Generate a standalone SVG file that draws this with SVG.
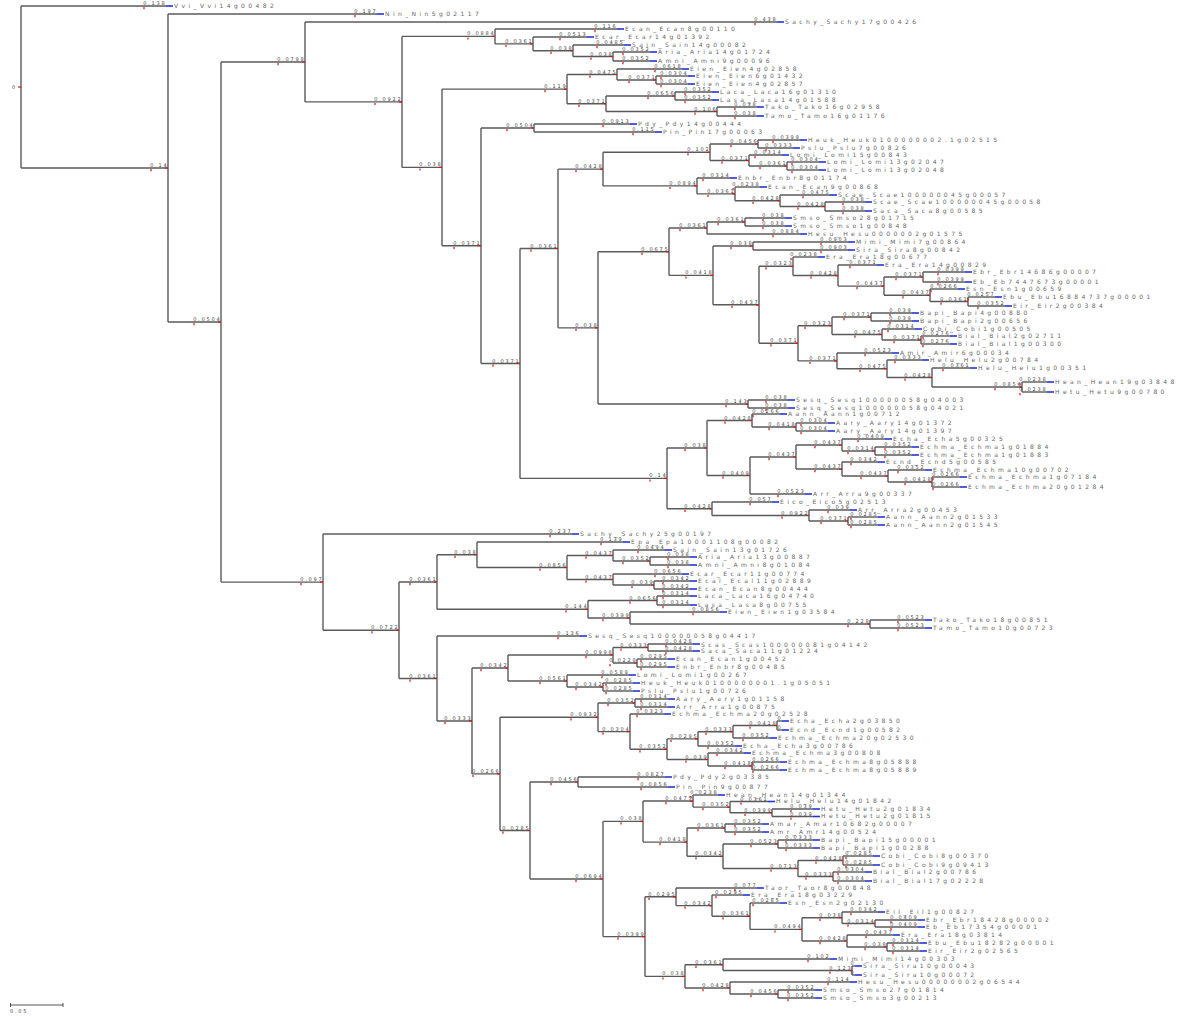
<svg xmlns="http://www.w3.org/2000/svg" width="1200" height="1016" viewBox="0 0 1200 1016">
<style>
.c path{fill:none;stroke:#5a5a5a;stroke-width:1.4}
.n{font-family:"DejaVu Sans",sans-serif;font-size:5px;letter-spacing:1.8px;fill:#444;text-anchor:end;transform:translateY(0.3px)}
.t{font-family:"DejaVu Sans",sans-serif;font-size:6px;letter-spacing:3.4px;fill:#666;transform:translateY(-0.3px)}
.r{fill:none;stroke:#d11;stroke-width:1.2}
.b{fill:none;stroke:#2233dd;stroke-width:1.6}
</style>
<rect width="1200" height="1016" fill="#fff"/>
<g class="c" id="connectors">
<path d="M21 6V168"/><path d="M21 6H166"/><path d="M21 168H168M168 14V322"/><path d="M168 14H377"/><path d="M168 322H221M221 62V582.1"/><path d="M221 62H305M305 22V101.9"/><path d="M305 22H777"/><path d="M305 101.9H402M402 36.4V167.4"/><path d="M402 36.4H495M495 29V43.9"/><path d="M495 29H617"/><path d="M495 43.9H533M533 37V50.75"/><path d="M533 37H587"/><path d="M533 50.75H573M573 45V56.5"/><path d="M573 45H624"/><path d="M573 56.5H613M613 52V61"/><path d="M613 52H650"/><path d="M613 61H650"/><path d="M402 167.4H442M442 89.1V245.7"/><path d="M442 89.1H567M567 74.5V103.75"/><path d="M567 74.5H617M617 69V80"/><path d="M617 69H682"/><path d="M617 80H656M656 76V84"/><path d="M656 76H688"/><path d="M656 84H688"/><path d="M567 103.75H606M606 96V111.5"/><path d="M606 96H675M675 92V100"/><path d="M675 92H712"/><path d="M675 100H712"/><path d="M606 111.5H717M717 107V116"/><path d="M717 107H757"/><path d="M717 116H757"/><path d="M442 245.7H481M481 128V363.45"/><path d="M481 128H534M534 124V132"/><path d="M534 124H630"/><path d="M534 132H655"/><path d="M481 363.45H520M520 248.5V478.4"/><path d="M520 248.5H558M558 169.1V327.85"/><path d="M558 169.1H603M603 152.25V185.9"/><path d="M603 152.25H710M710 144V160.5"/><path d="M710 144H758M758 140V148"/><path d="M758 140H800"/><path d="M758 148H793"/><path d="M710 160.5H749M749 155V166"/><path d="M749 155H782"/><path d="M749 166H787M787 162V170"/><path d="M787 162H819"/><path d="M787 170H819"/><path d="M603 185.9H697M697 178V193.9"/><path d="M697 178H730"/><path d="M697 193.9H735M735 187V200.75"/><path d="M735 187H760"/><path d="M735 200.75H780M780 195V206.5"/><path d="M780 195H830"/><path d="M780 206.5H825M825 202V211"/><path d="M825 202H865"/><path d="M825 211H865"/><path d="M558 327.85H598M598 251.7V404"/><path d="M598 251.7H669M669 228V275.4"/><path d="M669 228H707M707 222V234"/><path d="M707 222H745M745 218V226"/><path d="M745 218H785"/><path d="M745 226H785"/><path d="M707 234H800"/><path d="M669 275.4H713M713 246V304.8"/><path d="M713 246H753M753 242V250"/><path d="M753 242H848"/><path d="M753 250H848"/><path d="M713 304.8H759M759 266.3V343.3"/><path d="M759 266.3H793M793 257V275.55"/><path d="M793 257H818"/><path d="M793 275.55H838M838 265V286.1"/><path d="M838 265H877"/><path d="M838 286.1H884M884 277V295.25"/><path d="M884 277H923M923 272V282"/><path d="M923 272H965"/><path d="M923 282H965"/><path d="M884 295.25H930M930 289V301.5"/><path d="M930 289H958"/><path d="M930 301.5H968M968 297V306"/><path d="M968 297H995"/><path d="M968 306H1005"/><path d="M759 343.3H798M798 325.75V360.9"/><path d="M798 325.75H832M832 317V334.5"/><path d="M832 317H871M871 313V321"/><path d="M871 313H912"/><path d="M871 321H912"/><path d="M832 334.5H882M882 329V340"/><path d="M882 329H915"/><path d="M882 340H921M921 336V344"/><path d="M921 336H950"/><path d="M921 344H950"/><path d="M798 360.9H837M837 353V368.75"/><path d="M837 353H892"/><path d="M837 368.75H887M887 360V377.5"/><path d="M887 360H922"/><path d="M887 377.5H932M932 368V387"/><path d="M932 368H970"/><path d="M932 387H1022M1022 382V392"/><path d="M1022 382H1047"/><path d="M1022 392H1047"/><path d="M598 404H748M748 400V408"/><path d="M748 400H788"/><path d="M748 408H788"/><path d="M520 478.4H667M667 448V508.75"/><path d="M667 448H707M707 420.5V475.5"/><path d="M707 420.5H752M752 414V427"/><path d="M752 414H780"/><path d="M752 427H796M796 423V431"/><path d="M796 423H828"/><path d="M796 431H828"/><path d="M707 475.5H750M750 457V494"/><path d="M750 457H796M796 445V469"/><path d="M796 445H842M842 439V451"/><path d="M842 439H885"/><path d="M842 451H875M875 447V455"/><path d="M875 447H912"/><path d="M875 455H912"/><path d="M796 469H842M842 462V476"/><path d="M842 462H878"/><path d="M842 476H888M888 470V482"/><path d="M888 470H925"/><path d="M888 482H932M932 477V487"/><path d="M932 477H960"/><path d="M932 487H960"/><path d="M750 494H805"/><path d="M667 508.75H712M712 502V515.5"/><path d="M712 502H772"/><path d="M712 515.5H809M809 510V521"/><path d="M809 510H850"/><path d="M809 521H848M848 517V525"/><path d="M848 517H878"/><path d="M848 525H878"/>
<path d="M221 582.1H323M323 534V630.2"/><path d="M323 534H572"/><path d="M323 630.2H399M399 582V678.5"/><path d="M399 582H437M437 554.75V609.25"/><path d="M437 554.75H477M477 542V567.5"/><path d="M477 542H623"/><path d="M477 567.5H567M567 555.5V579.5"/><path d="M567 555.5H613M613 550V561"/><path d="M613 550H665"/><path d="M613 561H650M650 557V565"/><path d="M650 557H690"/><path d="M650 565H690"/><path d="M567 579.5H613M613 574V585"/><path d="M613 574H682"/><path d="M613 585H654M654 581V589"/><path d="M654 581H690"/><path d="M654 589H690"/><path d="M437 609.25H588M588 600.5V618"/><path d="M588 600.5H657M657 596V605"/><path d="M657 596H690"/><path d="M657 605H690"/><path d="M588 618H630M630 612V624"/><path d="M630 612H720"/><path d="M630 624H870M870 620V628"/><path d="M870 620H925"/><path d="M870 628H925"/><path d="M399 678.5H437M437 636V720.95"/><path d="M437 636H580"/><path d="M437 720.95H472M472 668V773.9"/><path d="M472 668H508M508 655V681"/><path d="M508 655H613M613 647.5V663"/><path d="M613 647.5H648M648 644V651"/><path d="M648 644H693"/><path d="M648 651H693"/><path d="M613 663H637M637 659V667"/><path d="M637 659H668"/><path d="M637 667H668"/><path d="M508 681H567M567 675V687"/><path d="M567 675H629"/><path d="M567 687H603M603 683V691"/><path d="M603 683H633"/><path d="M603 691H633"/><path d="M472 773.9H500M500 717.3V830.5"/><path d="M500 717.3H598M598 703V731.6"/><path d="M598 703H635M635 699V707"/><path d="M635 699H668"/><path d="M635 707H668"/><path d="M598 731.6H630M630 714V749.2"/><path d="M630 714H664"/><path d="M630 749.2H667M667 738.9V759.5"/><path d="M667 738.9H698M698 731.75V746"/><path d="M698 731.75H733M733 725.5V738"/><path d="M733 725.5H777M777 721V730"/><path d="M777 721H782"/><path d="M777 730H782"/><path d="M733 738H770"/><path d="M698 746H735"/><path d="M667 759.5H708M708 753V766"/><path d="M708 753H744"/><path d="M708 766H752M752 762V770"/><path d="M752 762H780"/><path d="M752 770H780"/><path d="M500 830.5H530M530 782V879"/><path d="M530 782H578M578 777V787"/><path d="M578 777H665"/><path d="M578 787H668"/><path d="M530 879H603M603 821.35V936.6"/><path d="M603 821.35H643M643 801.05V842.1"/><path d="M643 801.05H693M693 795V807.1"/><path d="M693 795H718"/><path d="M693 807.1H730M730 801.5V812.75"/><path d="M730 801.5H768"/><path d="M730 812.75H772M772 809V816.5"/><path d="M772 809H813"/><path d="M772 816.5H813"/><path d="M643 842.1H687M687 828V856.25"/><path d="M687 828H725M725 824V832"/><path d="M725 824H762"/><path d="M725 832H762"/><path d="M687 856.25H723M723 844V868.5"/><path d="M723 844H778M778 840V848"/><path d="M778 840H813"/><path d="M778 848H813"/><path d="M723 868.5H798M798 860.5V876.5"/><path d="M798 860.5H843M843 856V865"/><path d="M843 856H873"/><path d="M843 865H873"/><path d="M798 876.5H833M833 872V881"/><path d="M833 872H865"/><path d="M833 881H865"/><path d="M603 936.6H645M645 896.8V976.4"/><path d="M645 896.8H676M676 888V905.6"/><path d="M676 888H757"/><path d="M676 905.6H712M712 895V916.2"/><path d="M712 895H743"/><path d="M712 916.2H750M750 903V929.4"/><path d="M750 903H780"/><path d="M750 929.4H802M802 917.75V941"/><path d="M802 917.75H842M842 912V923.5"/><path d="M842 912H878"/><path d="M842 923.5H875M875 920V927"/><path d="M875 920H918"/><path d="M875 927H918"/><path d="M802 941H847M847 935V947"/><path d="M847 935H893"/><path d="M847 947H887M887 943V951"/><path d="M887 943H920"/><path d="M887 951H920"/><path d="M645 976.4H685M685 964.75V988"/><path d="M685 964.75H723M723 959V970.5"/><path d="M723 959H830"/><path d="M723 970.5H852M852 966V975"/><path d="M852 966H855"/><path d="M852 975H855"/><path d="M685 988H730M730 982V994"/><path d="M730 982H850"/><path d="M730 994H778M778 990V998"/><path d="M778 990H815"/><path d="M778 998H815"/>
</g>
<g id="R0"><text class="n" x="17" y="89">0</text><path class="r" d="M18 87h3"/></g>
<g id="L0"><text class="n" x="166.5" y="4.8">0.138</text><path class="r" d="M144 7v2.2"/><path class="b" d="M166 6h7"/><text class="t" x="174" y="8.3">Vvi_Vvi14g00482</text></g>
<g id="N168"><text class="n" x="168.5" y="166.8">0.14</text><path class="r" d="M151 169v2.2M165 168h3"/></g>
<g id="L1"><text class="n" x="377.5" y="12.8">0.197</text><path class="r" d="M355 15v2.2"/><path class="b" d="M377 14h7"/><text class="t" x="385" y="16.3">Nin_Nin5g02117</text></g>
<g id="N221"><text class="n" x="221.5" y="320.8">0.0504</text><path class="r" d="M194 323v2.2M218 322h3"/></g>
<g id="N305"><text class="n" x="305.5" y="60.8">0.0798</text><path class="r" d="M278 63v2.2M302 62h3"/></g>
<g id="L2"><text class="n" x="777.5" y="20.8">0.438</text><path class="r" d="M755 23v2.2"/><path class="b" d="M777 22h7"/><text class="t" x="785" y="24.3">Sachy_Sachy17g00426</text></g>
<g id="N402"><text class="n" x="402.5" y="100.7">0.0922</text><path class="r" d="M375 102.9v2.2M399 101.9h3"/></g>
<g id="N495"><text class="n" x="495.5" y="35.2">0.0884</text><path class="r" d="M468 37.4v2.2M492 36.4h3"/></g>
<g id="L3"><text class="n" x="617.5" y="27.8">0.116</text><path class="r" d="M595 30v2.2"/><path class="b" d="M617 29h7"/><text class="t" x="625" y="31.3">Ecan_Ecan8g00110</text></g>
<g id="N533"><text class="n" x="533.5" y="42.7">0.0361</text><path class="r" d="M506 44.9v2.2M530 43.9h3"/></g>
<g id="L4"><text class="n" x="587.5" y="35.8">0.0513</text><path class="r" d="M560 38v2.2"/><path class="b" d="M587 37h7"/><text class="t" x="595" y="39.3">Ecar_Ecar14g01392</text></g>
<g id="N573"><text class="n" x="573.5" y="49.55">0.038</text><path class="r" d="M551 51.75v2.2M570 50.75h3"/></g>
<g id="L5"><text class="n" x="624.5" y="43.8">0.0485</text><path class="r" d="M597 46v2.2"/><path class="b" d="M624 45h7"/><text class="t" x="632" y="47.3">Sain_Sain14g00082</text></g>
<g id="N613"><text class="n" x="613.5" y="55.3">0.038</text><path class="r" d="M591 57.5v2.2M610 56.5h3"/></g>
<g id="L6"><text class="n" x="650.5" y="50.8">0.0352</text><path class="r" d="M623 53v2.2"/><path class="b" d="M650 52h7"/><text class="t" x="658" y="54.3">Aria_Aria14g01724</text></g>
<g id="L7"><text class="n" x="650.5" y="59.8">0.0352</text><path class="r" d="M623 62v2.2"/><path class="b" d="M650 61h7"/><text class="t" x="658" y="63.3">Amni_Amni9g00096</text></g>
<g id="N442"><text class="n" x="442.5" y="166.2">0.038</text><path class="r" d="M420 168.4v2.2M439 167.4h3"/></g>
<g id="N567"><text class="n" x="567.5" y="87.9">0.119</text><path class="r" d="M545 90.1v2.2M564 89.1h3"/></g>
<g id="N617"><text class="n" x="617.5" y="73.3">0.0475</text><path class="r" d="M590 75.5v2.2M614 74.5h3"/></g>
<g id="L8"><text class="n" x="682.5" y="67.8">0.0618</text><path class="r" d="M655 70v2.2"/><path class="b" d="M682 69h7"/><text class="t" x="690" y="71.3">Eien_Eien4g02858</text></g>
<g id="N656"><text class="n" x="656.5" y="78.8">0.0371</text><path class="r" d="M629 81v2.2M653 80h3"/></g>
<g id="L9"><text class="n" x="688.5" y="74.8">0.0304</text><path class="r" d="M661 77v2.2"/><path class="b" d="M688 76h7"/><text class="t" x="696" y="78.3">Eien_Eien6g01432</text></g>
<g id="L10"><text class="n" x="688.5" y="82.8">0.0304</text><path class="r" d="M661 85v2.2"/><path class="b" d="M688 84h7"/><text class="t" x="696" y="86.3">Eien_Eien4g02857</text></g>
<g id="N606"><text class="n" x="606.5" y="102.55">0.0371</text><path class="r" d="M579 104.75v2.2M603 103.75h3"/></g>
<g id="N675"><text class="n" x="675.5" y="94.8">0.0656</text><path class="r" d="M648 97v2.2M672 96h3"/></g>
<g id="L11"><text class="n" x="712.5" y="90.8">0.0352</text><path class="r" d="M685 93v2.2"/><path class="b" d="M712 92h7"/><text class="t" x="720" y="94.3">Laca_Laca16g01310</text></g>
<g id="L12"><text class="n" x="712.5" y="98.8">0.0352</text><path class="r" d="M685 101v2.2"/><path class="b" d="M712 100h7"/><text class="t" x="720" y="102.3">Lasa_Lasa14g01588</text></g>
<g id="N717"><text class="n" x="717.5" y="110.3">0.106</text><path class="r" d="M695 112.5v2.2M714 111.5h3"/></g>
<g id="L13"><text class="n" x="757.5" y="105.8">0.038</text><path class="r" d="M735 108v2.2"/><path class="b" d="M757 107h7"/><text class="t" x="765" y="109.3">Tako_Tako16g02958</text></g>
<g id="L14"><text class="n" x="757.5" y="114.8">0.038</text><path class="r" d="M735 117v2.2"/><path class="b" d="M757 116h7"/><text class="t" x="765" y="118.3">Tamo_Tamo16g01176</text></g>
<g id="N481"><text class="n" x="481.5" y="244.5">0.0371</text><path class="r" d="M454 246.7v2.2M478 245.7h3"/></g>
<g id="N534"><text class="n" x="534.5" y="126.8">0.0504</text><path class="r" d="M507 129v2.2M531 128h3"/></g>
<g id="L15"><text class="n" x="630.5" y="122.8">0.0913</text><path class="r" d="M603 125v2.2"/><path class="b" d="M630 124h7"/><text class="t" x="638" y="126.3">Pdy_Pdy14g00444</text></g>
<g id="L16"><text class="n" x="655.5" y="130.8">0.115</text><path class="r" d="M633 133v2.2"/><path class="b" d="M655 132h7"/><text class="t" x="663" y="134.3">Pin_Pin17g00063</text></g>
<g id="N520"><text class="n" x="520.5" y="362.25">0.0371</text><path class="r" d="M493 364.45v2.2M517 363.45h3"/></g>
<g id="N558"><text class="n" x="558.5" y="247.3">0.0361</text><path class="r" d="M531 249.5v2.2M555 248.5h3"/></g>
<g id="N603"><text class="n" x="603.5" y="167.9">0.0428</text><path class="r" d="M576 170.1v2.2M600 169.1h3"/></g>
<g id="N710"><text class="n" x="710.5" y="151.05">0.102</text><path class="r" d="M688 153.25v2.2M707 152.25h3"/></g>
<g id="N758"><text class="n" x="758.5" y="142.8">0.0456</text><path class="r" d="M731 145v2.2M755 144h3"/></g>
<g id="L17"><text class="n" x="800.5" y="138.8">0.0399</text><path class="r" d="M773 141v2.2"/><path class="b" d="M800 140h7"/><text class="t" x="808" y="142.3">Heuk_Heuk0100000002.1g02515</text></g>
<g id="L18"><text class="n" x="793.5" y="146.8">0.0333</text><path class="r" d="M766 149v2.2"/><path class="b" d="M793 148h7"/><text class="t" x="801" y="150.3">Pslu_Pslu7g00826</text></g>
<g id="N749"><text class="n" x="749.5" y="159.3">0.0371</text><path class="r" d="M722 161.5v2.2M746 160.5h3"/></g>
<g id="L19"><text class="n" x="782.5" y="153.8">0.0314</text><path class="r" d="M755 156v2.2"/><path class="b" d="M782 155h7"/><text class="t" x="790" y="157.3">Lomi_Lomi15g00843</text></g>
<g id="N787"><text class="n" x="787.5" y="164.8">0.0361</text><path class="r" d="M760 167v2.2M784 166h3"/></g>
<g id="L20"><text class="n" x="819.5" y="160.8">0.0304</text><path class="r" d="M792 163v2.2"/><path class="b" d="M819 162h7"/><text class="t" x="827" y="164.3">Lomi_Lomi13g02047</text></g>
<g id="L21"><text class="n" x="819.5" y="168.8">0.0304</text><path class="r" d="M792 171v2.2"/><path class="b" d="M819 170h7"/><text class="t" x="827" y="172.3">Lomi_Lomi13g02048</text></g>
<g id="N697"><text class="n" x="697.5" y="184.7">0.0894</text><path class="r" d="M670 186.9v2.2M694 185.9h3"/></g>
<g id="L22"><text class="n" x="730.5" y="176.8">0.0314</text><path class="r" d="M703 179v2.2"/><path class="b" d="M730 178h7"/><text class="t" x="738" y="180.3">Enbr_Enbr8g01174</text></g>
<g id="N735"><text class="n" x="735.5" y="192.7">0.0361</text><path class="r" d="M708 194.9v2.2M732 193.9h3"/></g>
<g id="L23"><text class="n" x="760.5" y="185.8">0.0238</text><path class="r" d="M733 188v2.2"/><path class="b" d="M760 187h7"/><text class="t" x="768" y="189.3">Ecan_Ecan9g00868</text></g>
<g id="N780"><text class="n" x="780.5" y="199.55">0.0428</text><path class="r" d="M753 201.75v2.2M777 200.75h3"/></g>
<g id="L24"><text class="n" x="830.5" y="193.8">0.0475</text><path class="r" d="M803 196v2.2"/><path class="b" d="M830 195h7"/><text class="t" x="838" y="197.3">Scae_Scae100000045g00057</text></g>
<g id="N825"><text class="n" x="825.5" y="205.3">0.0428</text><path class="r" d="M798 207.5v2.2M822 206.5h3"/></g>
<g id="L25"><text class="n" x="865.5" y="200.8">0.038</text><path class="r" d="M843 203v2.2"/><path class="b" d="M865 202h7"/><text class="t" x="873" y="204.3">Scae_Scae100000045g00058</text></g>
<g id="L26"><text class="n" x="865.5" y="209.8">0.038</text><path class="r" d="M843 212v2.2"/><path class="b" d="M865 211h7"/><text class="t" x="873" y="213.3">Saca_Saca8g00585</text></g>
<g id="N598"><text class="n" x="598.5" y="326.65">0.038</text><path class="r" d="M576 328.85v2.2M595 327.85h3"/></g>
<g id="N669"><text class="n" x="669.5" y="250.5">0.0675</text><path class="r" d="M642 252.7v2.2M666 251.7h3"/></g>
<g id="N707"><text class="n" x="707.5" y="226.8">0.0361</text><path class="r" d="M680 229v2.2M704 228h3"/></g>
<g id="N745"><text class="n" x="745.5" y="220.8">0.0361</text><path class="r" d="M718 223v2.2M742 222h3"/></g>
<g id="L27"><text class="n" x="785.5" y="216.8">0.038</text><path class="r" d="M763 219v2.2"/><path class="b" d="M785 218h7"/><text class="t" x="793" y="220.3">Smso_Smso28g01715</text></g>
<g id="L28"><text class="n" x="785.5" y="224.8">0.038</text><path class="r" d="M763 227v2.2"/><path class="b" d="M785 226h7"/><text class="t" x="793" y="228.3">Smso_Smso1g00848</text></g>
<g id="L29"><text class="n" x="800.5" y="232.8">0.0884</text><path class="r" d="M773 235v2.2"/><path class="b" d="M800 234h7"/><text class="t" x="808" y="236.3">Hesu_Hesu0000002g01575</text></g>
<g id="N713"><text class="n" x="713.5" y="274.2">0.0418</text><path class="r" d="M686 276.4v2.2M710 275.4h3"/></g>
<g id="N753"><text class="n" x="753.5" y="244.8">0.038</text><path class="r" d="M731 247v2.2M750 246h3"/></g>
<g id="L30"><text class="n" x="848.5" y="240.8">0.0903</text><path class="r" d="M821 243v2.2"/><path class="b" d="M848 242h7"/><text class="t" x="856" y="244.3">Mimi_Mimi7g00864</text></g>
<g id="L31"><text class="n" x="848.5" y="248.8">0.0903</text><path class="r" d="M821 251v2.2"/><path class="b" d="M848 250h7"/><text class="t" x="856" y="252.3">Sira_Sira8g00842</text></g>
<g id="N759"><text class="n" x="759.5" y="303.6">0.0437</text><path class="r" d="M732 305.8v2.2M756 304.8h3"/></g>
<g id="N793"><text class="n" x="793.5" y="265.1">0.0323</text><path class="r" d="M766 267.3v2.2M790 266.3h3"/></g>
<g id="L32"><text class="n" x="818.5" y="255.8">0.0238</text><path class="r" d="M791 258v2.2"/><path class="b" d="M818 257h7"/><text class="t" x="826" y="259.3">Era_Era18g00677</text></g>
<g id="N838"><text class="n" x="838.5" y="274.35">0.0428</text><path class="r" d="M811 276.55v2.2M835 275.55h3"/></g>
<g id="L33"><text class="n" x="877.5" y="263.8">0.0371</text><path class="r" d="M850 266v2.2"/><path class="b" d="M877 265h7"/><text class="t" x="885" y="267.3">Era_Era14g00829</text></g>
<g id="N884"><text class="n" x="884.5" y="284.9">0.0437</text><path class="r" d="M857 287.1v2.2M881 286.1h3"/></g>
<g id="N923"><text class="n" x="923.5" y="275.8">0.0371</text><path class="r" d="M896 278v2.2M920 277h3"/></g>
<g id="L34"><text class="n" x="965.5" y="270.8">0.0399</text><path class="r" d="M938 273v2.2"/><path class="b" d="M965 272h7"/><text class="t" x="973" y="274.3">Ebr_Ebr14686g00007</text></g>
<g id="L35"><text class="n" x="965.5" y="280.8">0.0399</text><path class="r" d="M938 283v2.2"/><path class="b" d="M965 282h7"/><text class="t" x="973" y="284.3">Eb_Eb7447673g00001</text></g>
<g id="N930"><text class="n" x="930.5" y="294.05">0.0437</text><path class="r" d="M903 296.25v2.2M927 295.25h3"/></g>
<g id="L36"><text class="n" x="958.5" y="287.8">0.0266</text><path class="r" d="M931 290v2.2"/><path class="b" d="M958 289h7"/><text class="t" x="966" y="291.3">Esn_Esn1g00659</text></g>
<g id="N968"><text class="n" x="968.5" y="300.3">0.0361</text><path class="r" d="M941 302.5v2.2M965 301.5h3"/></g>
<g id="L37"><text class="n" x="995.5" y="295.8">0.0257</text><path class="r" d="M968 298v2.2"/><path class="b" d="M995 297h7"/><text class="t" x="1003" y="299.3">Ebu_Ebu16884737g00001</text></g>
<g id="L38"><text class="n" x="1005.5" y="304.8">0.0352</text><path class="r" d="M978 307v2.2"/><path class="b" d="M1005 306h7"/><text class="t" x="1013" y="308.3">Eir_Eir2g00384</text></g>
<g id="N798"><text class="n" x="798.5" y="342.1">0.0371</text><path class="r" d="M771 344.3v2.2M795 343.3h3"/></g>
<g id="N832"><text class="n" x="832.5" y="324.55">0.0323</text><path class="r" d="M805 326.75v2.2M829 325.75h3"/></g>
<g id="N871"><text class="n" x="871.5" y="315.8">0.0371</text><path class="r" d="M844 318v2.2M868 317h3"/></g>
<g id="L39"><text class="n" x="912.5" y="311.8">0.039</text><path class="r" d="M890 314v2.2"/><path class="b" d="M912 313h7"/><text class="t" x="920" y="315.3">Bapi_Bapi4g00880</text></g>
<g id="L40"><text class="n" x="912.5" y="319.8">0.039</text><path class="r" d="M890 322v2.2"/><path class="b" d="M912 321h7"/><text class="t" x="920" y="323.3">Bapi_Bapi2g00656</text></g>
<g id="N882"><text class="n" x="882.5" y="333.3">0.0475</text><path class="r" d="M855 335.5v2.2M879 334.5h3"/></g>
<g id="L41"><text class="n" x="915.5" y="327.8">0.0314</text><path class="r" d="M888 330v2.2"/><path class="b" d="M915 329h7"/><text class="t" x="923" y="331.3">Cobi_Cobi1g00505</text></g>
<g id="N921"><text class="n" x="921.5" y="338.8">0.0371</text><path class="r" d="M894 341v2.2M918 340h3"/></g>
<g id="L42"><text class="n" x="950.5" y="334.8">0.0276</text><path class="r" d="M923 337v2.2"/><path class="b" d="M950 336h7"/><text class="t" x="958" y="338.3">Bial_Bial2g02711</text></g>
<g id="L43"><text class="n" x="950.5" y="342.8">0.0276</text><path class="r" d="M923 345v2.2"/><path class="b" d="M950 344h7"/><text class="t" x="958" y="346.3">Bial_Bial1g00300</text></g>
<g id="N837"><text class="n" x="837.5" y="359.7">0.0371</text><path class="r" d="M810 361.9v2.2M834 360.9h3"/></g>
<g id="L44"><text class="n" x="892.5" y="351.8">0.0523</text><path class="r" d="M865 354v2.2"/><path class="b" d="M892 353h7"/><text class="t" x="900" y="355.3">Amir_Amir6g00034</text></g>
<g id="N887"><text class="n" x="887.5" y="367.55">0.0475</text><path class="r" d="M860 369.75v2.2M884 368.75h3"/></g>
<g id="L45"><text class="n" x="922.5" y="358.8">0.0333</text><path class="r" d="M895 361v2.2"/><path class="b" d="M922 360h7"/><text class="t" x="930" y="362.3">Helu_Helu2g00784</text></g>
<g id="N932"><text class="n" x="932.5" y="376.3">0.0428</text><path class="r" d="M905 378.5v2.2M929 377.5h3"/></g>
<g id="L46"><text class="n" x="970.5" y="366.8">0.0361</text><path class="r" d="M943 369v2.2"/><path class="b" d="M970 368h7"/><text class="t" x="978" y="370.3">Helu_Helu1g00351</text></g>
<g id="N1022"><text class="n" x="1022.5" y="385.8">0.0856</text><path class="r" d="M995 388v2.2M1019 387h3"/></g>
<g id="L47"><text class="n" x="1047.5" y="380.8">0.0238</text><path class="r" d="M1020 383v2.2"/><path class="b" d="M1047 382h7"/><text class="t" x="1055" y="384.3">Hean_Hean19g03848</text></g>
<g id="L48"><text class="n" x="1047.5" y="390.8">0.0238</text><path class="r" d="M1020 393v2.2"/><path class="b" d="M1047 392h7"/><text class="t" x="1055" y="394.3">Hetu_Hetu9g00780</text></g>
<g id="N748"><text class="n" x="748.5" y="402.8">0.143</text><path class="r" d="M726 405v2.2M745 404h3"/></g>
<g id="L49"><text class="n" x="788.5" y="398.8">0.038</text><path class="r" d="M766 401v2.2"/><path class="b" d="M788 400h7"/><text class="t" x="796" y="402.3">Sesq_Sesq100000058g04003</text></g>
<g id="L50"><text class="n" x="788.5" y="406.8">0.038</text><path class="r" d="M766 409v2.2"/><path class="b" d="M788 408h7"/><text class="t" x="796" y="410.3">Sesq_Sesq100000058g04021</text></g>
<g id="N667"><text class="n" x="667.5" y="477.2">0.14</text><path class="r" d="M650 479.4v2.2M664 478.4h3"/></g>
<g id="N707b"><text class="n" x="707.5" y="446.8">0.038</text><path class="r" d="M685 449v2.2M704 448h3"/></g>
<g id="N752"><text class="n" x="752.5" y="419.3">0.0428</text><path class="r" d="M725 421.5v2.2M749 420.5h3"/></g>
<g id="L51"><text class="n" x="780.5" y="412.8">0.0266</text><path class="r" d="M753 415v2.2"/><path class="b" d="M780 414h7"/><text class="t" x="788" y="416.3">Aann_Aann1g00712</text></g>
<g id="N796"><text class="n" x="796.5" y="425.8">0.0418</text><path class="r" d="M769 428v2.2M793 427h3"/></g>
<g id="L52"><text class="n" x="828.5" y="421.8">0.0304</text><path class="r" d="M801 424v2.2"/><path class="b" d="M828 423h7"/><text class="t" x="836" y="425.3">Aary_Aary14g01372</text></g>
<g id="L53"><text class="n" x="828.5" y="429.8">0.0304</text><path class="r" d="M801 432v2.2"/><path class="b" d="M828 431h7"/><text class="t" x="836" y="433.3">Aary_Aary14g01397</text></g>
<g id="N750"><text class="n" x="750.5" y="474.3">0.0409</text><path class="r" d="M723 476.5v2.2M747 475.5h3"/></g>
<g id="N796b"><text class="n" x="796.5" y="455.8">0.0437</text><path class="r" d="M769 458v2.2M793 457h3"/></g>
<g id="N842"><text class="n" x="842.5" y="443.8">0.0437</text><path class="r" d="M815 446v2.2M839 445h3"/></g>
<g id="L54"><text class="n" x="885.5" y="437.8">0.0409</text><path class="r" d="M858 440v2.2"/><path class="b" d="M885 439h7"/><text class="t" x="893" y="441.3">Echa_Echa5g00325</text></g>
<g id="N875"><text class="n" x="875.5" y="449.8">0.0314</text><path class="r" d="M848 452v2.2M872 451h3"/></g>
<g id="L55"><text class="n" x="912.5" y="445.8">0.0352</text><path class="r" d="M885 448v2.2"/><path class="b" d="M912 447h7"/><text class="t" x="920" y="449.3">Echma_Echma1g01884</text></g>
<g id="L56"><text class="n" x="912.5" y="453.8">0.0352</text><path class="r" d="M885 456v2.2"/><path class="b" d="M912 455h7"/><text class="t" x="920" y="457.3">Echma_Echma1g01883</text></g>
<g id="N842b"><text class="n" x="842.5" y="467.8">0.0437</text><path class="r" d="M815 470v2.2M839 469h3"/></g>
<g id="L57"><text class="n" x="878.5" y="460.8">0.0342</text><path class="r" d="M851 463v2.2"/><path class="b" d="M878 462h7"/><text class="t" x="886" y="464.3">Ecnd_Ecnd5g00585</text></g>
<g id="N888"><text class="n" x="888.5" y="474.8">0.0437</text><path class="r" d="M861 477v2.2M885 476h3"/></g>
<g id="L58"><text class="n" x="925.5" y="468.8">0.0352</text><path class="r" d="M898 471v2.2"/><path class="b" d="M925 470h7"/><text class="t" x="933" y="472.3">Echma_Echma10g00702</text></g>
<g id="N932b"><text class="n" x="932.5" y="480.8">0.0418</text><path class="r" d="M905 483v2.2M929 482h3"/></g>
<g id="L59"><text class="n" x="960.5" y="475.8">0.0266</text><path class="r" d="M933 478v2.2"/><path class="b" d="M960 477h7"/><text class="t" x="968" y="479.3">Echma_Echma1g07184</text></g>
<g id="L60"><text class="n" x="960.5" y="485.8">0.0266</text><path class="r" d="M933 488v2.2"/><path class="b" d="M960 487h7"/><text class="t" x="968" y="489.3">Echma_Echma20g01284</text></g>
<g id="L61"><text class="n" x="805.5" y="492.8">0.0523</text><path class="r" d="M778 495v2.2"/><path class="b" d="M805 494h7"/><text class="t" x="813" y="496.3">Arr_Arra9g00337</text></g>
<g id="N712"><text class="n" x="712.5" y="507.55">0.0428</text><path class="r" d="M685 509.75v2.2M709 508.75h3"/></g>
<g id="L62"><text class="n" x="772.5" y="500.8">0.057</text><path class="r" d="M750 503v2.2"/><path class="b" d="M772 502h7"/><text class="t" x="780" y="504.3">Eico_Eico5g02513</text></g>
<g id="N809"><text class="n" x="809.5" y="514.3">0.0922</text><path class="r" d="M782 516.5v2.2M806 515.5h3"/></g>
<g id="L63"><text class="n" x="850.5" y="508.8">0.039</text><path class="r" d="M828 511v2.2"/><path class="b" d="M850 510h7"/><text class="t" x="858" y="512.3">Arr_Arra2g00453</text></g>
<g id="N848"><text class="n" x="848.5" y="519.8">0.0371</text><path class="r" d="M821 522v2.2M845 521h3"/></g>
<g id="L64"><text class="n" x="878.5" y="515.8">0.0285</text><path class="r" d="M851 518v2.2"/><path class="b" d="M878 517h7"/><text class="t" x="886" y="519.3">Aann_Aann2g01533</text></g>
<g id="L65"><text class="n" x="878.5" y="523.8">0.0285</text><path class="r" d="M851 526v2.2"/><path class="b" d="M878 525h7"/><text class="t" x="886" y="527.3">Aann_Aann2g01545</text></g>
<g id="NB"><text class="n" x="323.5" y="580.9">0.097</text><path class="r" d="M301 583.1v2.2M320 582.1h3"/></g>
<g id="L66"><text class="n" x="572.5" y="532.8">0.237</text><path class="r" d="M550 535v2.2"/><path class="b" d="M572 534h7"/><text class="t" x="580" y="536.3">Sachy_Sachy25g00197</text></g>
<g id="N399"><text class="n" x="399.5" y="629">0.0722</text><path class="r" d="M372 631.2v2.2M396 630.2h3"/></g>
<g id="N437"><text class="n" x="437.5" y="580.8">0.0361</text><path class="r" d="M410 583v2.2M434 582h3"/></g>
<g id="N477"><text class="n" x="477.5" y="553.55">0.038</text><path class="r" d="M455 555.75v2.2M474 554.75h3"/></g>
<g id="L67"><text class="n" x="623.5" y="540.8">0.139</text><path class="r" d="M601 543v2.2"/><path class="b" d="M623 542h7"/><text class="t" x="631" y="544.3">Epa_Epa10001108g00082</text></g>
<g id="N567b"><text class="n" x="567.5" y="566.3">0.0856</text><path class="r" d="M540 568.5v2.2M564 567.5h3"/></g>
<g id="N613a"><text class="n" x="613.5" y="554.3">0.0437</text><path class="r" d="M586 556.5v2.2M610 555.5h3"/></g>
<g id="L68"><text class="n" x="665.5" y="548.8">0.0494</text><path class="r" d="M638 551v2.2"/><path class="b" d="M665 550h7"/><text class="t" x="673" y="552.3">Sain_Sain13g01726</text></g>
<g id="N650"><text class="n" x="650.5" y="559.8">0.0352</text><path class="r" d="M623 562v2.2M647 561h3"/></g>
<g id="L69"><text class="n" x="690.5" y="555.8">0.038</text><path class="r" d="M668 558v2.2"/><path class="b" d="M690 557h7"/><text class="t" x="698" y="559.3">Aria_Aria13g00887</text></g>
<g id="L70"><text class="n" x="690.5" y="563.8">0.038</text><path class="r" d="M668 566v2.2"/><path class="b" d="M690 565h7"/><text class="t" x="698" y="567.3">Amni_Amni8g01084</text></g>
<g id="N613b"><text class="n" x="613.5" y="578.3">0.0437</text><path class="r" d="M586 580.5v2.2M610 579.5h3"/></g>
<g id="L71"><text class="n" x="682.5" y="572.8">0.0656</text><path class="r" d="M655 575v2.2"/><path class="b" d="M682 574h7"/><text class="t" x="690" y="576.3">Ecar_Ecar11g00774</text></g>
<g id="N654"><text class="n" x="654.5" y="583.8">0.039</text><path class="r" d="M632 586v2.2M651 585h3"/></g>
<g id="L72"><text class="n" x="690.5" y="579.8">0.0342</text><path class="r" d="M663 582v2.2"/><path class="b" d="M690 581h7"/><text class="t" x="698" y="583.3">Ecal_Ecal11g02889</text></g>
<g id="L73"><text class="n" x="690.5" y="587.8">0.0342</text><path class="r" d="M663 590v2.2"/><path class="b" d="M690 589h7"/><text class="t" x="698" y="591.3">Ecan_Ecan8g00444</text></g>
<g id="N588"><text class="n" x="588.5" y="608.05">0.144</text><path class="r" d="M566 610.25v2.2M585 609.25h3"/></g>
<g id="N657"><text class="n" x="657.5" y="599.3">0.0656</text><path class="r" d="M630 601.5v2.2M654 600.5h3"/></g>
<g id="L74"><text class="n" x="690.5" y="594.8">0.0314</text><path class="r" d="M663 597v2.2"/><path class="b" d="M690 596h7"/><text class="t" x="698" y="598.3">Laca_Laca16g04740</text></g>
<g id="L75"><text class="n" x="690.5" y="603.8">0.0314</text><path class="r" d="M663 606v2.2"/><path class="b" d="M690 605h7"/><text class="t" x="698" y="607.3">Lasa_Lasa8g00755</text></g>
<g id="N630"><text class="n" x="630.5" y="616.8">0.0399</text><path class="r" d="M603 619v2.2M627 618h3"/></g>
<g id="L76"><text class="n" x="720.5" y="610.8">0.0856</text><path class="r" d="M693 613v2.2"/><path class="b" d="M720 612h7"/><text class="t" x="728" y="614.3">Eien_Eien1g03584</text></g>
<g id="N870"><text class="n" x="870.5" y="622.8">0.228</text><path class="r" d="M848 625v2.2M867 624h3"/></g>
<g id="L77"><text class="n" x="925.5" y="618.8">0.0523</text><path class="r" d="M898 621v2.2"/><path class="b" d="M925 620h7"/><text class="t" x="933" y="622.3">Tako_Tako18g00851</text></g>
<g id="L78"><text class="n" x="925.5" y="626.8">0.0523</text><path class="r" d="M898 629v2.2"/><path class="b" d="M925 628h7"/><text class="t" x="933" y="630.3">Tamo_Tamo10g00723</text></g>
<g id="N437b"><text class="n" x="437.5" y="677.3">0.0361</text><path class="r" d="M410 679.5v2.2M434 678.5h3"/></g>
<g id="L79"><text class="n" x="580.5" y="634.8">0.136</text><path class="r" d="M558 637v2.2"/><path class="b" d="M580 636h7"/><text class="t" x="588" y="638.3">Sesq_Sesq100000058g04417</text></g>
<g id="N472"><text class="n" x="472.5" y="719.75">0.0333</text><path class="r" d="M445 721.95v2.2M469 720.95h3"/></g>
<g id="N508"><text class="n" x="508.5" y="666.8">0.0342</text><path class="r" d="M481 669v2.2M505 668h3"/></g>
<g id="N613c"><text class="n" x="613.5" y="653.8">0.0998</text><path class="r" d="M586 656v2.2M610 655h3"/></g>
<g id="N648"><text class="n" x="648.5" y="646.3">0.0333</text><path class="r" d="M621 648.5v2.2M645 647.5h3"/></g>
<g id="L80"><text class="n" x="693.5" y="642.8">0.0428</text><path class="r" d="M666 645v2.2"/><path class="b" d="M693 644h7"/><text class="t" x="701" y="647.3">Scas_Scas100000081g04142</text></g>
<g id="L81"><text class="n" x="693.5" y="649.8">0.0428</text><path class="r" d="M666 652v2.2"/><path class="b" d="M693 651h7"/><text class="t" x="701" y="653.3">Saca_Saca11g01224</text></g>
<g id="N637"><text class="n" x="637.5" y="661.8">0.0228</text><path class="r" d="M610 664v2.2M634 663h3"/></g>
<g id="L82"><text class="n" x="668.5" y="657.8">0.0295</text><path class="r" d="M641 660v2.2"/><path class="b" d="M668 659h7"/><text class="t" x="676" y="661.3">Ecan_Ecan1g00452</text></g>
<g id="L83"><text class="n" x="668.5" y="665.8">0.0295</text><path class="r" d="M641 668v2.2"/><path class="b" d="M668 667h7"/><text class="t" x="676" y="669.3">Enbr_Enbr8g00485</text></g>
<g id="N567c"><text class="n" x="567.5" y="679.8">0.0561</text><path class="r" d="M540 682v2.2M564 681h3"/></g>
<g id="L84"><text class="n" x="629.5" y="673.8">0.0589</text><path class="r" d="M602 676v2.2"/><path class="b" d="M629 675h7"/><text class="t" x="637" y="677.3">Lomi_Lomi1g00267</text></g>
<g id="N603b"><text class="n" x="603.5" y="685.8">0.0342</text><path class="r" d="M576 688v2.2M600 687h3"/></g>
<g id="L85"><text class="n" x="633.5" y="681.8">0.0285</text><path class="r" d="M606 684v2.2"/><path class="b" d="M633 683h7"/><text class="t" x="641" y="685.3">Heuk_Heuk0100000001.1g05051</text></g>
<g id="L86"><text class="n" x="633.5" y="689.8">0.0285</text><path class="r" d="M606 692v2.2"/><path class="b" d="M633 691h7"/><text class="t" x="641" y="693.3">Pslu_Pslu1g00726</text></g>
<g id="N500"><text class="n" x="500.5" y="772.7">0.0266</text><path class="r" d="M473 774.9v2.2M497 773.9h3"/></g>
<g id="N598b"><text class="n" x="598.5" y="716.1">0.0932</text><path class="r" d="M571 718.3v2.2M595 717.3h3"/></g>
<g id="N635"><text class="n" x="635.5" y="701.8">0.0352</text><path class="r" d="M608 704v2.2M632 703h3"/></g>
<g id="L87"><text class="n" x="668.5" y="697.8">0.0314</text><path class="r" d="M641 700v2.2"/><path class="b" d="M668 699h7"/><text class="t" x="676" y="701.3">Aary_Aary1g01158</text></g>
<g id="L88"><text class="n" x="668.5" y="705.8">0.0314</text><path class="r" d="M641 708v2.2"/><path class="b" d="M668 707h7"/><text class="t" x="676" y="709.3">Arr_Arra1g00875</text></g>
<g id="N630b"><text class="n" x="630.5" y="730.4">0.0304</text><path class="r" d="M603 732.6v2.2M627 731.6h3"/></g>
<g id="L89"><text class="n" x="664.5" y="712.8">0.0323</text><path class="r" d="M637 715v2.2"/><path class="b" d="M664 714h7"/><text class="t" x="672" y="716.3">Echma_Echma20g02528</text></g>
<g id="N667b"><text class="n" x="667.5" y="748">0.0352</text><path class="r" d="M640 750.2v2.2M664 749.2h3"/></g>
<g id="N698"><text class="n" x="698.5" y="737.7">0.0295</text><path class="r" d="M671 739.9v2.2M695 738.9h3"/></g>
<g id="N733"><text class="n" x="733.5" y="730.55">0.0333</text><path class="r" d="M706 732.75v2.2M730 731.75h3"/></g>
<g id="N777"><text class="n" x="777.5" y="724.3">0.0418</text><path class="r" d="M750 726.5v2.2M774 725.5h3"/></g>
<g id="L90"><text class="n" x="782.5" y="719.8">0</text><path class="b" d="M782 721h7"/><text class="t" x="790" y="723.3">Echa_Echa2g03850</text></g>
<g id="L91"><text class="n" x="782.5" y="728.8">0</text><path class="b" d="M782 730h7"/><text class="t" x="790" y="732.3">Ecnd_Ecnd1g00582</text></g>
<g id="L92"><text class="n" x="770.5" y="736.8">0.0352</text><path class="r" d="M743 739v2.2"/><path class="b" d="M770 738h7"/><text class="t" x="778" y="740.3">Echma_Echma20g02530</text></g>
<g id="L93"><text class="n" x="735.5" y="744.8">0.0352</text><path class="r" d="M708 747v2.2"/><path class="b" d="M735 746h7"/><text class="t" x="743" y="748.3">Echa_Echa3g00786</text></g>
<g id="N708"><text class="n" x="708.5" y="758.3">0.039</text><path class="r" d="M686 760.5v2.2M705 759.5h3"/></g>
<g id="L94"><text class="n" x="744.5" y="751.8">0.0342</text><path class="r" d="M717 754v2.2"/><path class="b" d="M744 753h7"/><text class="t" x="752" y="755.3">Echma_Echma3g00808</text></g>
<g id="N752b"><text class="n" x="752.5" y="764.8">0.0418</text><path class="r" d="M725 767v2.2M749 766h3"/></g>
<g id="L95"><text class="n" x="780.5" y="760.8">0.0266</text><path class="r" d="M753 763v2.2"/><path class="b" d="M780 762h7"/><text class="t" x="788" y="764.3">Echma_Echma8g05888</text></g>
<g id="L96"><text class="n" x="780.5" y="768.8">0.0266</text><path class="r" d="M753 771v2.2"/><path class="b" d="M780 770h7"/><text class="t" x="788" y="772.3">Echma_Echma8g05889</text></g>
<g id="N530"><text class="n" x="530.5" y="829.3">0.0285</text><path class="r" d="M503 831.5v2.2M527 830.5h3"/></g>
<g id="N578"><text class="n" x="578.5" y="780.8">0.0456</text><path class="r" d="M551 783v2.2M575 782h3"/></g>
<g id="L97"><text class="n" x="665.5" y="775.8">0.0827</text><path class="r" d="M638 778v2.2"/><path class="b" d="M665 777h7"/><text class="t" x="673" y="779.3">Pdy_Pdy2g03385</text></g>
<g id="L98"><text class="n" x="668.5" y="785.8">0.0856</text><path class="r" d="M641 788v2.2"/><path class="b" d="M668 787h7"/><text class="t" x="676" y="789.3">Pin_Pin9g00877</text></g>
<g id="N603c"><text class="n" x="603.5" y="877.8">0.0694</text><path class="r" d="M576 880v2.2M600 879h3"/></g>
<g id="N643"><text class="n" x="643.5" y="820.15">0.038</text><path class="r" d="M621 822.35v2.2M640 821.35h3"/></g>
<g id="N693"><text class="n" x="693.5" y="799.85">0.0475</text><path class="r" d="M666 802.05v2.2M690 801.05h3"/></g>
<g id="L99"><text class="n" x="718.5" y="793.8">0.0238</text><path class="r" d="M691 796v2.2"/><path class="b" d="M718 795h7"/><text class="t" x="726" y="797.3">Hean_Hean14g01344</text></g>
<g id="N730"><text class="n" x="730.5" y="805.9">0.0352</text><path class="r" d="M703 808.1v2.2M727 807.1h3"/></g>
<g id="L100"><text class="n" x="768.5" y="800.3">0.0361</text><path class="r" d="M741 802.5v2.2"/><path class="b" d="M768 801.5h7"/><text class="t" x="776" y="803.8">Helu_Helu14g01842</text></g>
<g id="N772"><text class="n" x="772.5" y="811.55">0.0399</text><path class="r" d="M745 813.75v2.2M769 812.75h3"/></g>
<g id="L101"><text class="n" x="813.5" y="807.8">0.039</text><path class="r" d="M791 810v2.2"/><path class="b" d="M813 809h7"/><text class="t" x="821" y="811.3">Hetu_Hetu2g01834</text></g>
<g id="L102"><text class="n" x="813.5" y="815.3">0.039</text><path class="r" d="M791 817.5v2.2"/><path class="b" d="M813 816.5h7"/><text class="t" x="821" y="818.8">Hetu_Hetu2g01815</text></g>
<g id="N687"><text class="n" x="687.5" y="840.9">0.0418</text><path class="r" d="M660 843.1v2.2M684 842.1h3"/></g>
<g id="N725"><text class="n" x="725.5" y="826.8">0.0361</text><path class="r" d="M698 829v2.2M722 828h3"/></g>
<g id="L103"><text class="n" x="762.5" y="822.8">0.0352</text><path class="r" d="M735 825v2.2"/><path class="b" d="M762 824h7"/><text class="t" x="770" y="826.3">Amar_Amar10682g00007</text></g>
<g id="L104"><text class="n" x="762.5" y="830.8">0.0352</text><path class="r" d="M735 833v2.2"/><path class="b" d="M762 832h7"/><text class="t" x="770" y="834.3">Amr_Amr14g00524</text></g>
<g id="N723"><text class="n" x="723.5" y="855.05">0.0342</text><path class="r" d="M696 857.25v2.2M720 856.25h3"/></g>
<g id="N778"><text class="n" x="778.5" y="842.8">0.0523</text><path class="r" d="M751 845v2.2M775 844h3"/></g>
<g id="L105"><text class="n" x="813.5" y="838.8">0.0333</text><path class="r" d="M786 841v2.2"/><path class="b" d="M813 840h7"/><text class="t" x="821" y="842.3">Bapi_Bapi15g00001</text></g>
<g id="L106"><text class="n" x="813.5" y="846.8">0.0333</text><path class="r" d="M786 849v2.2"/><path class="b" d="M813 848h7"/><text class="t" x="821" y="850.3">Bapi_Bapi1g00288</text></g>
<g id="N798b"><text class="n" x="798.5" y="867.3">0.0713</text><path class="r" d="M771 869.5v2.2M795 868.5h3"/></g>
<g id="N843"><text class="n" x="843.5" y="859.3">0.0428</text><path class="r" d="M816 861.5v2.2M840 860.5h3"/></g>
<g id="L107"><text class="n" x="873.5" y="854.8">0.0285</text><path class="r" d="M846 857v2.2"/><path class="b" d="M873 856h7"/><text class="t" x="881" y="858.3">Cobi_Cobi8g00370</text></g>
<g id="L108"><text class="n" x="873.5" y="863.8">0.0285</text><path class="r" d="M846 866v2.2"/><path class="b" d="M873 865h7"/><text class="t" x="881" y="867.3">Cobi_Cobi9g09413</text></g>
<g id="N833"><text class="n" x="833.5" y="875.3">0.0333</text><path class="r" d="M806 877.5v2.2M830 876.5h3"/></g>
<g id="L109"><text class="n" x="865.5" y="870.8">0.0304</text><path class="r" d="M838 873v2.2"/><path class="b" d="M865 872h7"/><text class="t" x="873" y="874.3">Bial_Bial2g00786</text></g>
<g id="L110"><text class="n" x="865.5" y="879.8">0.0304</text><path class="r" d="M838 882v2.2"/><path class="b" d="M865 881h7"/><text class="t" x="873" y="883.3">Bial_Bial17g02228</text></g>
<g id="N645"><text class="n" x="645.5" y="935.4">0.0399</text><path class="r" d="M618 937.6v2.2M642 936.6h3"/></g>
<g id="N676"><text class="n" x="676.5" y="895.6">0.0295</text><path class="r" d="M649 897.8v2.2M673 896.8h3"/></g>
<g id="L111"><text class="n" x="757.5" y="886.8">0.077</text><path class="r" d="M735 889v2.2"/><path class="b" d="M757 888h7"/><text class="t" x="765" y="890.3">Taor_Taor8g00848</text></g>
<g id="N712b"><text class="n" x="712.5" y="904.4">0.0342</text><path class="r" d="M685 906.6v2.2M709 905.6h3"/></g>
<g id="L112"><text class="n" x="743.5" y="893.8">0.0295</text><path class="r" d="M716 896v2.2"/><path class="b" d="M743 895h7"/><text class="t" x="751" y="897.3">Era_Era18g03229</text></g>
<g id="N750b"><text class="n" x="750.5" y="915">0.0361</text><path class="r" d="M723 917.2v2.2M747 916.2h3"/></g>
<g id="L113"><text class="n" x="780.5" y="901.8">0.0285</text><path class="r" d="M753 904v2.2"/><path class="b" d="M780 903h7"/><text class="t" x="788" y="905.3">Esn_Esn2g02130</text></g>
<g id="N802"><text class="n" x="802.5" y="928.2">0.0494</text><path class="r" d="M775 930.4v2.2M799 929.4h3"/></g>
<g id="N842c"><text class="n" x="842.5" y="916.55">0.038</text><path class="r" d="M820 918.75v2.2M839 917.75h3"/></g>
<g id="L114"><text class="n" x="878.5" y="910.8">0.0342</text><path class="r" d="M851 913v2.2"/><path class="b" d="M878 912h7"/><text class="t" x="886" y="914.3">Eil_Eil1g00827</text></g>
<g id="N875b"><text class="n" x="875.5" y="922.3">0.0314</text><path class="r" d="M848 924.5v2.2M872 923.5h3"/></g>
<g id="L115"><text class="n" x="918.5" y="918.8">0.0409</text><path class="r" d="M891 921v2.2"/><path class="b" d="M918 920h7"/><text class="t" x="926" y="922.3">Ebr_Ebr18428g00002</text></g>
<g id="L116"><text class="n" x="918.5" y="925.8">0.0409</text><path class="r" d="M891 928v2.2"/><path class="b" d="M918 927h7"/><text class="t" x="926" y="929.3">Eb_Eb17354g00001</text></g>
<g id="N847"><text class="n" x="847.5" y="939.8">0.0428</text><path class="r" d="M820 942v2.2M844 941h3"/></g>
<g id="L117"><text class="n" x="893.5" y="933.8">0.0437</text><path class="r" d="M866 936v2.2"/><path class="b" d="M893 935h7"/><text class="t" x="901" y="937.3">Era_Era18g03814</text></g>
<g id="N887b"><text class="n" x="887.5" y="945.8">0.038</text><path class="r" d="M865 948v2.2M884 947h3"/></g>
<g id="L118"><text class="n" x="920.5" y="941.8">0.0314</text><path class="r" d="M893 944v2.2"/><path class="b" d="M920 943h7"/><text class="t" x="928" y="945.3">Ebu_Ebu18282g00001</text></g>
<g id="L119"><text class="n" x="920.5" y="949.8">0.0314</text><path class="r" d="M893 952v2.2"/><path class="b" d="M920 951h7"/><text class="t" x="928" y="953.3">Eir_Eir2g02565</text></g>
<g id="N685"><text class="n" x="685.5" y="975.2">0.038</text><path class="r" d="M663 977.4v2.2M682 976.4h3"/></g>
<g id="N723b"><text class="n" x="723.5" y="963.55">0.0361</text><path class="r" d="M696 965.75v2.2M720 964.75h3"/></g>
<g id="L120"><text class="n" x="830.5" y="957.8">0.102</text><path class="r" d="M808 960v2.2"/><path class="b" d="M830 959h7"/><text class="t" x="838" y="961.3">Mimi_Mimi14g00303</text></g>
<g id="N852"><text class="n" x="852.5" y="969.3">0.123</text><path class="r" d="M830 971.5v2.2M849 970.5h3"/></g>
<g id="L121"><text class="n" x="855.5" y="964.8">0</text><path class="b" d="M855 966h7"/><text class="t" x="863" y="968.3">Sira_Sira10g00043</text></g>
<g id="L122"><text class="n" x="855.5" y="973.8">0</text><path class="b" d="M855 975h7"/><text class="t" x="863" y="977.3">Sira_Sira10g00072</text></g>
<g id="N730b"><text class="n" x="730.5" y="986.8">0.0428</text><path class="r" d="M703 989v2.2M727 988h3"/></g>
<g id="L123"><text class="n" x="850.5" y="980.8">0.114</text><path class="r" d="M828 983v2.2"/><path class="b" d="M850 982h7"/><text class="t" x="858" y="984.3">Hesu_Hesu00000002g06544</text></g>
<g id="N778b"><text class="n" x="778.5" y="992.8">0.0456</text><path class="r" d="M751 995v2.2M775 994h3"/></g>
<g id="L124"><text class="n" x="815.5" y="988.8">0.0352</text><path class="r" d="M788 991v2.2"/><path class="b" d="M815 990h7"/><text class="t" x="823" y="992.3">Smso_Smso27g01814</text></g>
<g id="L125"><text class="n" x="815.5" y="996.8">0.0352</text><path class="r" d="M788 999v2.2"/><path class="b" d="M815 998h7"/><text class="t" x="823" y="1000.3">Smso_Smso3g00213</text></g>
<g id="scale"><path d="M10.5 1005H63M10.5 1003v4M63 1003v4" fill="none" stroke="#555" stroke-width="1"/><text class="n" x="10" y="1013" style="text-anchor:start">0.05</text></g>
</svg>
